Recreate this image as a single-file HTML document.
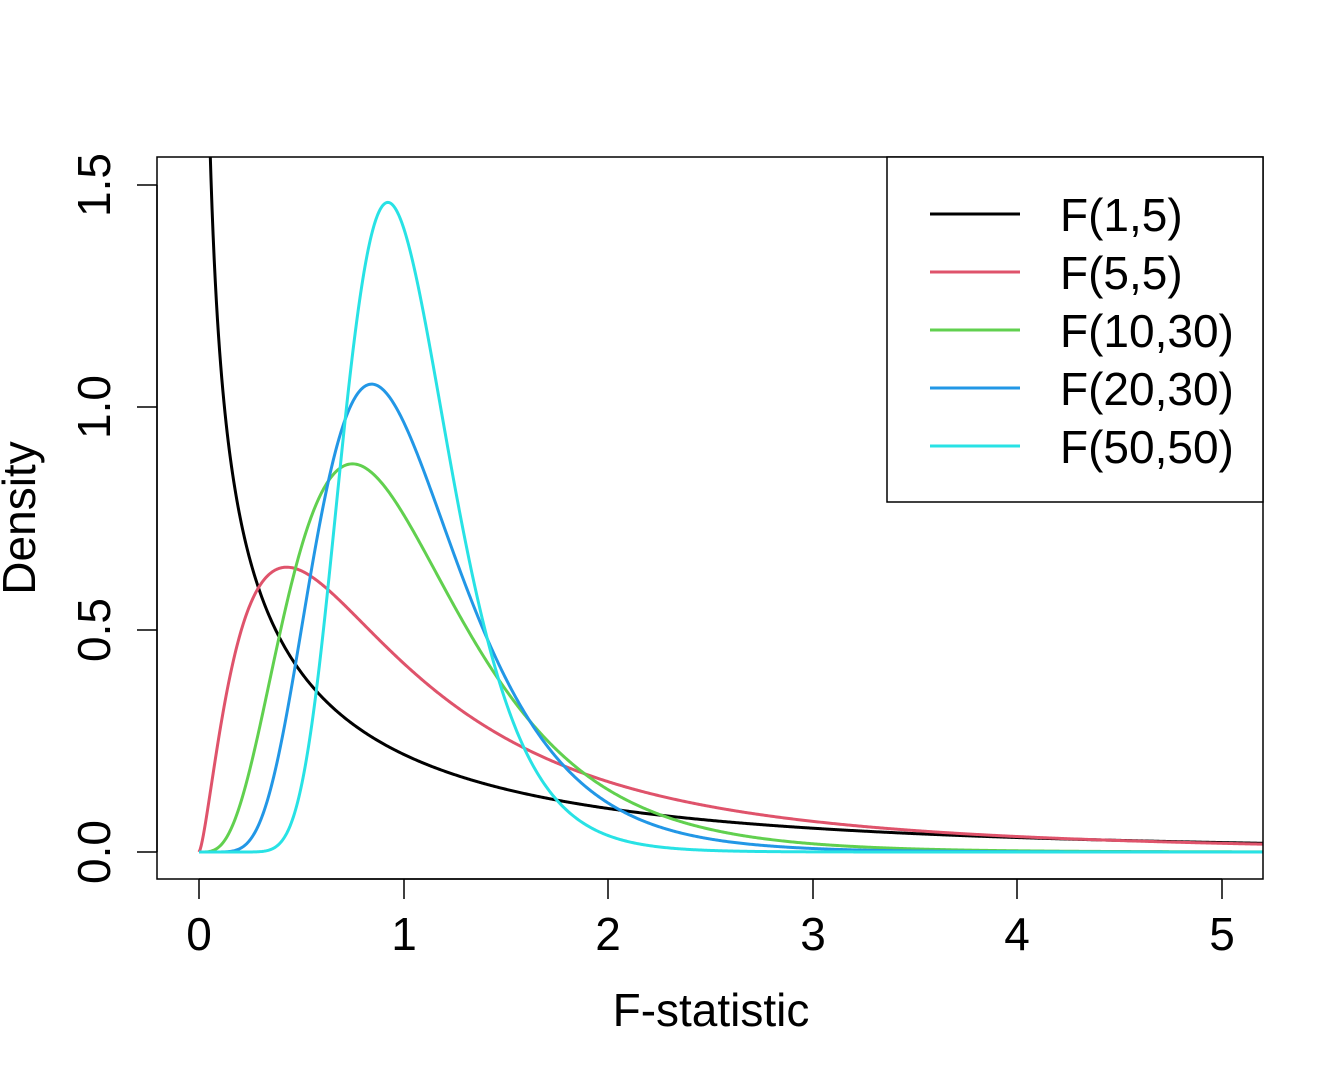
<!DOCTYPE html>
<html><head><meta charset="utf-8">
<style>
html,body{margin:0;padding:0;background:#fff;}
svg text{font-family:"Liberation Sans",Arial,sans-serif;fill:#000;}
</style></head>
<body>
<svg id="s" width="1344" height="1075" viewBox="0 0 1344 1075" xmlns="http://www.w3.org/2000/svg">
<defs><clipPath id="c"><rect x="157" y="157" width="1106" height="722"/></clipPath></defs>
<rect x="0" y="0" width="1344" height="1075" fill="#fff"/>
<g id="curves" clip-path="url(#c)" fill="none" stroke-width="3"></g>
<rect x="157" y="157" width="1106" height="722" fill="none" stroke="#000" stroke-width="1.5"/>
<g stroke="#000" stroke-width="1.5">
<line x1="199" y1="879" x2="1222" y2="879"/>
<line x1="199" y1="879" x2="199" y2="899"/>
<line x1="404" y1="879" x2="404" y2="899"/>
<line x1="608" y1="879" x2="608" y2="899"/>
<line x1="813" y1="879" x2="813" y2="899"/>
<line x1="1017" y1="879" x2="1017" y2="899"/>
<line x1="1222" y1="879" x2="1222" y2="899"/>
<line x1="157" y1="852" x2="157" y2="185"/>
<line x1="137" y1="852" x2="157" y2="852"/>
<line x1="137" y1="630" x2="157" y2="630"/>
<line x1="137" y1="407" x2="157" y2="407"/>
<line x1="137" y1="185" x2="157" y2="185"/>
</g>
<g font-size="46" text-anchor="middle">
<text x="199" y="950">0</text>
<text x="404" y="950">1</text>
<text x="608" y="950">2</text>
<text x="813" y="950">3</text>
<text x="1017" y="950">4</text>
<text x="1222" y="950">5</text>
<text x="711" y="1026">F-statistic</text>
<text transform="translate(110,852) rotate(-90)">0.0</text>
<text transform="translate(110,630) rotate(-90)">0.5</text>
<text transform="translate(110,407) rotate(-90)">1.0</text>
<text transform="translate(110,185) rotate(-90)">1.5</text>
<text transform="translate(35,518) rotate(-90)">Density</text>
</g>
<rect x="887" y="157" width="376" height="345" fill="#fff" stroke="#000" stroke-width="1.5"/>
<g stroke-width="3">
<line x1="930" y1="214" x2="1020" y2="214" stroke="#000"/>
<line x1="930" y1="272" x2="1020" y2="272" stroke="#DF536B"/>
<line x1="930" y1="330" x2="1020" y2="330" stroke="#61D04F"/>
<line x1="930" y1="388" x2="1020" y2="388" stroke="#2297E6"/>
<line x1="930" y1="446" x2="1020" y2="446" stroke="#28E2E5"/>
</g>
<g font-size="46">
<text x="1060" y="231">F(1,5)</text>
<text x="1060" y="289">F(5,5)</text>
<text x="1060" y="347">F(10,30)</text>
<text x="1060" y="405">F(20,30)</text>
<text x="1060" y="463">F(50,50)</text>
</g>
</svg>
<script>
function lg(z){var g=7,c=[0.99999999999980993,676.5203681218851,-1259.1392167224028,771.32342877765313,-176.61502916214059,12.507343278686905,-0.13857109526572012,9.9843695780195716e-6,1.5056327351493116e-7];
if(z<0.5)return Math.log(Math.PI/Math.sin(Math.PI*z))-lg(1-z);z-=1;var x=c[0];for(var i=1;i<g+2;i++)x+=c[i]/(z+i);var t=z+g+0.5;return 0.5*Math.log(2*Math.PI)+(z+0.5)*Math.log(t)-t+Math.log(x);}
function df(x,a,b){var lb=lg(a/2)+lg(b/2)-lg((a+b)/2);
return Math.exp((a/2)*Math.log(a/b)+(a/2-1)*Math.log(x)-((a+b)/2)*Math.log(1+a*x/b)-lb);}
var S=[[1,5,"#000"],[5,5,"#DF536B"],[10,30,"#61D04F"],[20,30,"#2297E6"],[50,50,"#28E2E5"]];
var g=document.getElementById("curves");
S.forEach(function(s){var d="";for(var i=0;i<=1000;i++){var x=0.0001+i*5.3/1000;var y=df(x,s[0],s[1]);
var px=199+x*204.6,py=852-y*444.7;if(py<-100)py=-100;d+=(i?"L":"M")+px.toFixed(2)+","+py.toFixed(2);}
var p=document.createElementNS("http://www.w3.org/2000/svg","path");p.setAttribute("d",d);p.setAttribute("stroke",s[2]);g.appendChild(p);});
</script>
</body></html>
